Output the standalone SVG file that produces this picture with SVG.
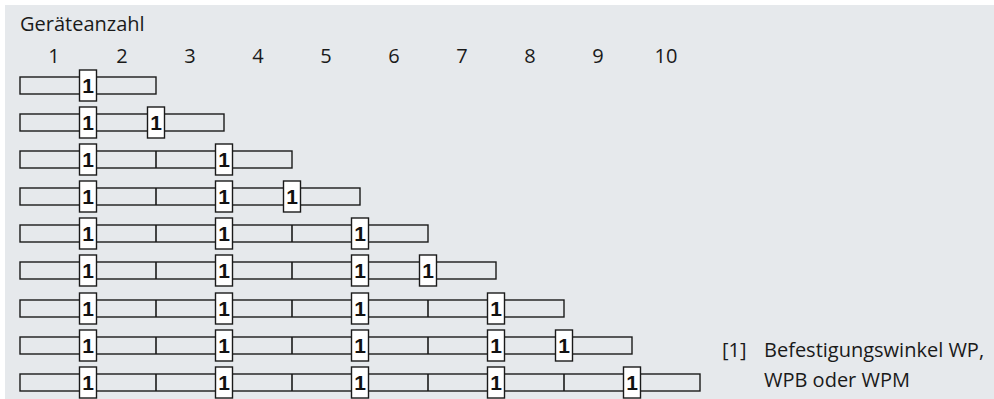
<svg xmlns="http://www.w3.org/2000/svg" width="994" height="399" viewBox="0 0 994 399">
<style>
.lbl{font-family:"Open Sans","Noto Sans","Liberation Sans",sans-serif;font-size:20px;fill:#1a1a1a}
.col{text-anchor:middle}
.bar{fill:#e6e9ec;stroke:#1a1a1a;stroke-width:1.4}
.div{stroke:#1a1a1a;stroke-width:1.6}
.box{fill:#ffffff;stroke:#1a1a1a;stroke-width:1.4}
.n{font-family:"Liberation Sans",Arial,sans-serif;font-size:21px;font-weight:bold;fill:#111;text-anchor:middle}
</style>
<rect x="5" y="5" width="989" height="394" fill="#e6e9ec"/>
<g id="header">
<text class="lbl" x="20" y="31">Geräteanzahl</text>
<text class="lbl col" x="54" y="63">1</text>
<text class="lbl col" x="122" y="63">2</text>
<text class="lbl col" x="190" y="63">3</text>
<text class="lbl col" x="258" y="63">4</text>
<text class="lbl col" x="326" y="63">5</text>
<text class="lbl col" x="394" y="63">6</text>
<text class="lbl col" x="462" y="63">7</text>
<text class="lbl col" x="530" y="63">8</text>
<text class="lbl col" x="598" y="63">9</text>
<text class="lbl col" x="666" y="63">10</text>
</g>
<g id="connectors"></g>
<g id="row2">
<rect class="bar" x="20" y="77" width="136" height="17"/>
<rect class="box" x="79.5" y="70" width="17" height="31"/><text class="n" x="88" y="93">1</text>
</g>
<g id="row3">
<rect class="bar" x="20" y="114" width="204" height="17"/>
<rect class="box" x="79.5" y="107" width="17" height="31"/><text class="n" x="88" y="130">1</text>
<rect class="box" x="147.5" y="107" width="17" height="31"/><text class="n" x="156" y="130">1</text>
</g>
<g id="row4">
<rect class="bar" x="20" y="151" width="272" height="17"/>
<line class="div" x1="156" y1="151" x2="156" y2="168"/>
<rect class="box" x="79.5" y="144" width="17" height="31"/><text class="n" x="88" y="167">1</text>
<rect class="box" x="215.5" y="144" width="17" height="31"/><text class="n" x="224" y="167">1</text>
</g>
<g id="row5">
<rect class="bar" x="20" y="188" width="340" height="17"/>
<line class="div" x1="156" y1="188" x2="156" y2="205"/>
<rect class="box" x="79.5" y="181" width="17" height="31"/><text class="n" x="88" y="204">1</text>
<rect class="box" x="215.5" y="181" width="17" height="31"/><text class="n" x="224" y="204">1</text>
<rect class="box" x="283.5" y="181" width="17" height="31"/><text class="n" x="292" y="204">1</text>
</g>
<g id="row6">
<rect class="bar" x="20" y="225" width="408" height="17"/>
<line class="div" x1="156" y1="225" x2="156" y2="242"/>
<line class="div" x1="292" y1="225" x2="292" y2="242"/>
<rect class="box" x="79.5" y="218" width="17" height="31"/><text class="n" x="88" y="241">1</text>
<rect class="box" x="215.5" y="218" width="17" height="31"/><text class="n" x="224" y="241">1</text>
<rect class="box" x="351.5" y="218" width="17" height="31"/><text class="n" x="360" y="241">1</text>
</g>
<g id="row7">
<rect class="bar" x="20" y="262" width="476" height="17"/>
<line class="div" x1="156" y1="262" x2="156" y2="279"/>
<line class="div" x1="292" y1="262" x2="292" y2="279"/>
<rect class="box" x="79.5" y="255" width="17" height="31"/><text class="n" x="88" y="278">1</text>
<rect class="box" x="215.5" y="255" width="17" height="31"/><text class="n" x="224" y="278">1</text>
<rect class="box" x="351.5" y="255" width="17" height="31"/><text class="n" x="360" y="278">1</text>
<rect class="box" x="419.5" y="255" width="17" height="31"/><text class="n" x="428" y="278">1</text>
</g>
<g id="row8">
<rect class="bar" x="20" y="300" width="544" height="17"/>
<line class="div" x1="156" y1="300" x2="156" y2="317"/>
<line class="div" x1="292" y1="300" x2="292" y2="317"/>
<line class="div" x1="428" y1="300" x2="428" y2="317"/>
<rect class="box" x="79.5" y="293" width="17" height="31"/><text class="n" x="88" y="316">1</text>
<rect class="box" x="215.5" y="293" width="17" height="31"/><text class="n" x="224" y="316">1</text>
<rect class="box" x="351.5" y="293" width="17" height="31"/><text class="n" x="360" y="316">1</text>
<rect class="box" x="487.5" y="293" width="17" height="31"/><text class="n" x="496" y="316">1</text>
</g>
<g id="row9">
<rect class="bar" x="20" y="337" width="612" height="17"/>
<line class="div" x1="156" y1="337" x2="156" y2="354"/>
<line class="div" x1="292" y1="337" x2="292" y2="354"/>
<line class="div" x1="428" y1="337" x2="428" y2="354"/>
<rect class="box" x="79.5" y="330" width="17" height="31"/><text class="n" x="88" y="353">1</text>
<rect class="box" x="215.5" y="330" width="17" height="31"/><text class="n" x="224" y="353">1</text>
<rect class="box" x="351.5" y="330" width="17" height="31"/><text class="n" x="360" y="353">1</text>
<rect class="box" x="487.5" y="330" width="17" height="31"/><text class="n" x="496" y="353">1</text>
<rect class="box" x="555.5" y="330" width="17" height="31"/><text class="n" x="564" y="353">1</text>
</g>
<g id="row10">
<rect class="bar" x="20" y="374" width="680" height="17"/>
<line class="div" x1="156" y1="374" x2="156" y2="391"/>
<line class="div" x1="292" y1="374" x2="292" y2="391"/>
<line class="div" x1="428" y1="374" x2="428" y2="391"/>
<line class="div" x1="564" y1="374" x2="564" y2="391"/>
<rect class="box" x="79.5" y="367" width="17" height="31"/><text class="n" x="88" y="390">1</text>
<rect class="box" x="215.5" y="367" width="17" height="31"/><text class="n" x="224" y="390">1</text>
<rect class="box" x="351.5" y="367" width="17" height="31"/><text class="n" x="360" y="390">1</text>
<rect class="box" x="487.5" y="367" width="17" height="31"/><text class="n" x="496" y="390">1</text>
<rect class="box" x="623.5" y="367" width="17" height="31"/><text class="n" x="632" y="390">1</text>
</g>
<g id="legend">
<text class="lbl" x="722" y="356.5">[1]</text>
<text class="lbl" x="764" y="356.5">Befestigungswinkel WP,</text>
<text class="lbl" x="764" y="386.5">WPB oder WPM</text>
</g>
</svg>
